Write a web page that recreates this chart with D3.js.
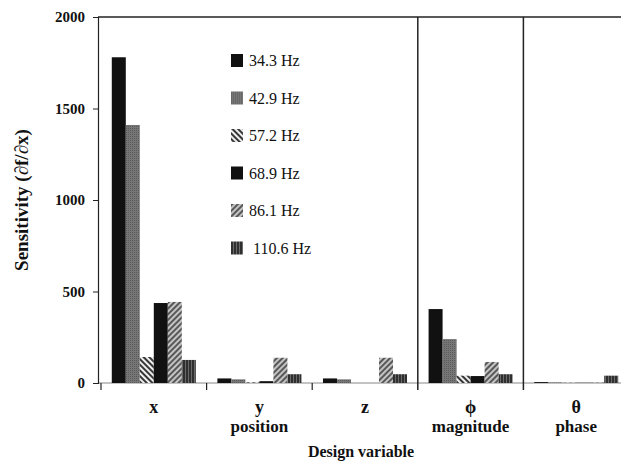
<!DOCTYPE html>
<html>
<head>
<meta charset="utf-8">
<script src="https://cdn.jsdelivr.net/npm/d3@7"></script>
<style>
    body { margin: 0; background: #fff; }
    svg { display: block; }
    text { font-family: 'Liberation Serif', 'DejaVu Serif', serif; fill: #111; }
</style>
</head>
<body>
<svg id="canvas" width="621" height="462"></svg>
<script>
// design variable groups (two text lines each)
const groups = ['x', 'y', 'z', 'phi', 'theta'];
const groupTop = ['x', 'y', 'z', 'ϕ', 'θ'];
const groupBottom = ['', 'position', '', 'magnitude', 'phase'];

const freqs = ['34.3 Hz', '42.9 Hz', '57.2 Hz', '68.9 Hz', '86.1 Hz', '110.6 Hz'];

// sensitivity per group, one array per frequency
const f343 = [1780, 25, 25, 404, 5];
const f429 = [1410, 20, 20, 240, 3];
const f572 = [142, 3, 0, 40, 1];
const f689 = [437, 10, 0, 38, 1];
const f861 = [443, 138, 138, 115, 2];
const f1106 = [126, 48, 48, 48, 40];

const yTicks = [0, 500, 1000, 1500, 2000];

const series = [f343, f429, f572, f689, f861, f1106];
const fills = ['#111', 'url(#p429)', 'url(#p572)', '#111', 'url(#p861)', 'url(#p1106)'];

let canvas = d3.select('#canvas');

// patterns
let defs = canvas.append('defs');

let p429 = defs.append('pattern').attr('id', 'p429')
    .attr('width', 2).attr('height', 2).attr('patternUnits', 'userSpaceOnUse');
p429.append('rect').attr('width', 2).attr('height', 2).attr('fill', '#767676');
p429.append('rect').attr('width', 1).attr('height', 1).attr('fill', '#5a5a5a');

let p572 = defs.append('pattern').attr('id', 'p572')
    .attr('width', 4).attr('height', 4).attr('patternUnits', 'userSpaceOnUse')
    .attr('patternTransform', 'rotate(-45)');
p572.append('rect').attr('width', 4).attr('height', 4).attr('fill', '#eee');
p572.append('line').attr('x1', 1).attr('x2', 1).attr('y1', 0).attr('y2', 4)
    .attr('stroke', '#222').attr('stroke-width', 1.8);

let p861 = defs.append('pattern').attr('id', 'p861')
    .attr('width', 4).attr('height', 4).attr('patternUnits', 'userSpaceOnUse')
    .attr('patternTransform', 'rotate(45)');
p861.append('rect').attr('width', 4).attr('height', 4).attr('fill', '#c4c4c4');
p861.append('line').attr('x1', 1).attr('x2', 1).attr('y1', 0).attr('y2', 4)
    .attr('stroke', '#333').attr('stroke-width', 1.5);

let p1106 = defs.append('pattern').attr('id', 'p1106')
    .attr('width', 3).attr('height', 3).attr('patternUnits', 'userSpaceOnUse');
p1106.append('rect').attr('width', 3).attr('height', 3).attr('fill', '#6a6a6a');
p1106.append('line').attr('x1', 1).attr('x2', 1).attr('y1', 0).attr('y2', 3)
    .attr('stroke', '#151515').attr('stroke-width', 1.4);

// scales
let xScale = d3.scaleBand().domain(groups).range([101, 629]).padding(0);
let subScale = d3.scaleBand().domain(d3.range(freqs.length))
    .range([0, xScale.bandwidth()]).paddingInner(0).paddingOuter(0.77);
let yScale = d3.scaleLinear().domain([0, 2000]).range([383, 17]);

// baseline
canvas.append('line')
    .attr('x1', 98).attr('x2', 621)
    .attr('y1', yScale(0)).attr('y2', yScale(0))
    .attr('stroke', '#888').attr('stroke-width', 1.2);

// bars
series.forEach((values, i) => {
    canvas.append('g')
        .selectAll('rect')
        .data(values)
        .enter()
        .append('rect')
        .attr('x', (d, j) => xScale(groups[j]) + subScale(i))
        .attr('y', d => yScale(d))
        .attr('width', subScale.bandwidth())
        .attr('height', d => yScale(0) - yScale(d))
        .attr('fill', fills[i]);
});

// y axis
let yAxis = d3.axisLeft(yScale).tickValues(yTicks).tickFormat(d3.format('d'))
    .tickSize(5).tickPadding(8);
let yG = canvas.append('g').attr('transform', 'translate(98,0)').call(yAxis);
yG.select('.domain').attr('stroke', '#222').attr('stroke-width', 1.2);
yG.selectAll('.tick line').attr('stroke', '#222');
yG.selectAll('.tick text')
    .attr('font-size', 15).attr('font-weight', 'bold')
    .style('font-family', "'Liberation Serif', serif");

// top frame line
canvas.append('line')
    .attr('x1', 98).attr('x2', 621)
    .attr('y1', yScale(2000)).attr('y2', yScale(2000))
    .attr('stroke', '#222').attr('stroke-width', 1.5);

// group ticks and dividers
groups.forEach((g, i) => {
    let gx = xScale(g);
    canvas.append('line')
        .attr('x1', gx).attr('x2', gx)
        .attr('y1', i >= 3 ? yScale(2000) : yScale(0)).attr('y2', yScale(0) + 7)
        .attr('stroke', '#222').attr('stroke-width', i >= 3 ? 1.5 : 1.2);
});

// group labels
canvas.append('g')
    .selectAll('text')
    .data(groups)
    .enter()
    .append('text')
    .attr('x', g => xScale(g) + xScale.bandwidth() / 2)
    .attr('y', 413)
    .attr('text-anchor', 'middle')
    .attr('font-size', 18)
    .attr('font-weight', 'bold')
    .text((g, i) => groupTop[i]);

canvas.append('g')
    .selectAll('text')
    .data(groups)
    .enter()
    .append('text')
    .attr('x', g => xScale(g) + xScale.bandwidth() / 2)
    .attr('y', 432)
    .attr('text-anchor', 'middle')
    .attr('font-size', 17)
    .attr('font-weight', 'bold')
    .text((g, i) => groupBottom[i]);

// axis titles
canvas.append('text')
    .attr('x', 361).attr('y', 457)
    .attr('text-anchor', 'middle')
    .attr('font-size', 16).attr('font-weight', 'bold')
    .text('Design variable');

canvas.append('text')
    .attr('transform', 'translate(28,200) rotate(-90)')
    .attr('text-anchor', 'middle')
    .attr('font-size', 19).attr('font-weight', 'bold')
    .text('Sensitivity (∂f/∂x)');

// legend
let legend = canvas.append('g')
    .selectAll('g')
    .data(freqs)
    .enter()
    .append('g')
    .attr('transform', (d, i) => 'translate(231,' + (54 + i * 37.5) + ')');

legend.append('rect')
    .attr('width', 12).attr('height', 13)
    .attr('fill', (d, i) => fills[i]);

legend.append('text')
    .attr('x', (d, i) => i === 5 ? 22 : 18)
    .attr('y', 12)
    .attr('font-size', 16)
    .text(d => d);
</script>
</body>
</html>
